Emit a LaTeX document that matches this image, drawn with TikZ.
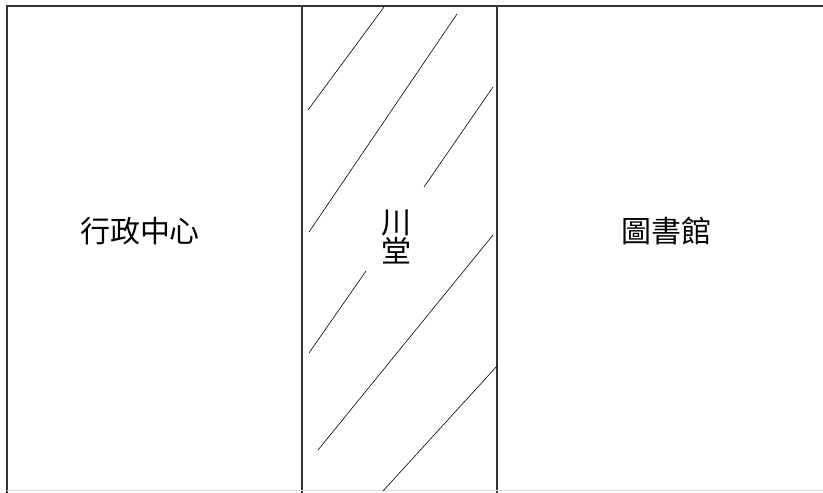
\documentclass[tikz,border=0pt]{standalone}
\usepackage{fontspec}
\usepackage{tikz}
\newfontfamily\cjk{Noto Sans CJK TC}

\begin{document}
\begin{tikzpicture}[x=1pt, y=-1pt, every node/.style={font=\cjk\fontsize{30}{34}\selectfont, inner sep=0pt}]
	\useasboundingbox (0,0) rectangle (823,493);
	% Walls
	\draw [black!80, line width=1.3pt] (7,493) -- (7,6) -- (823,6);
	\draw [black!80, line width=1.3pt] (302,6) -- (302,493);
	\draw [black!80, line width=1.3pt] (497,6) -- (497,493);
	\draw [black!12, line width=1pt] (7,490) -- (823,490);
	% Hatching of the hall
	\draw [line width=0.6pt] (308,110) -- (384,7);
	\draw [line width=0.6pt] (309,232) -- (457,14);
	\draw [line width=0.6pt] (424,187) -- (493,87);
	\draw [line width=0.6pt] (318,450) -- (493,235);
	\draw [line width=0.6pt] (309,353) -- (366,271);
	\draw [line width=0.6pt] (383,491) -- (497,366);
	% Labels
	\node (1) at (140,231) {行政中心};
	\node (2) at (396,237) [align=center, font=\cjk\fontsize{30}{27}\selectfont] {川\\堂};
	\node (3) at (666,231) {圖書館};
\end{tikzpicture}
\end{document}
